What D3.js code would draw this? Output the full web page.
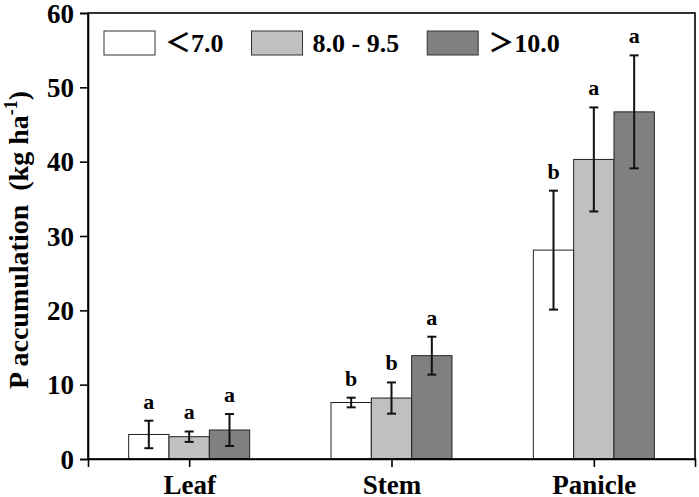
<!DOCTYPE html>
<html>
<head>
<meta charset="utf-8">
<script src="https://cdn.jsdelivr.net/npm/d3@7"></script>
<style>
body { margin: 0; background: #fff; }
text { font-family: "Liberation Serif", "Times New Roman", serif; font-weight: bold; }
</style>
</head>
<body>
<script>
// data
var organs = ["Leaf", "Stem", "Panicle"];
var groups = ["＜7.0", "8.0 - 9.5", "＞10.0"];
var means = [
  [3.3, 3.0, 3.9],
  [7.6, 8.2, 13.9],
  [28.1, 40.3, 46.7]
];
var errs = [
  [1.85, 0.7, 2.15],
  [0.65, 2.1, 2.55],
  [8.0, 7.0, 7.6]
];
var letters = [
  ["a", "a", "a"],
  ["b", "b", "a"],
  ["b", "a", "a"]
];
var yTicks = [0, 10, 20, 30, 40, 50, 60];
var fills = ["#ffffff", "#c0c0c0", "#808080"];

var W = 699, H = 497;
// note: "top" is a reserved window property, so use m* names
var mLeft = 88, mRight = 695, mTop = 13, mBottom = 459;

var svg = d3.select("body").append("svg")
            .attr("width", W)
            .attr("height", H);

var x = d3.scalePoint()
          .domain(organs)
          .range([mLeft, mRight])
          .padding(0.5);
var xs = d3.scaleBand()
           .domain(groups)
           .range([-60.5, 60.5]);
var y = d3.scaleLinear()
          .domain([0, 60])
          .range([mBottom, mTop]);

var rows = [];
organs.forEach(function(o, i) {
  groups.forEach(function(g, j) {
    rows.push({organ: o, group: g, j: j, v: means[i][j], e: errs[i][j], l: letters[i][j]});
  });
});

// bars
svg.append("g").selectAll("rect")
   .data(rows)
   .enter()
   .append("rect")
   .attr("x", function(d) { return x(d.organ) + xs(d.group); })
   .attr("width", xs.bandwidth())
   .attr("y", function(d) { return y(d.v); })
   .attr("height", function(d) { return y(0) - y(d.v); })
   .attr("fill", function(d) { return fills[d.j]; })
   .attr("stroke", "#222")
   .attr("stroke-width", 1);

// error bars
var eb = svg.append("g").selectAll("g")
            .data(rows)
            .enter()
            .append("g")
            .attr("stroke", "#111")
            .attr("stroke-width", 2);
function cx(d) { return x(d.organ) + xs(d.group) + xs.bandwidth() / 2; }
eb.append("line")
  .attr("x1", cx).attr("x2", cx)
  .attr("y1", function(d) { return y(d.v + d.e); })
  .attr("y2", function(d) { return y(d.v - d.e); });
eb.append("line")
  .attr("x1", function(d) { return cx(d) - 4.5; })
  .attr("x2", function(d) { return cx(d) + 4.5; })
  .attr("y1", function(d) { return y(d.v + d.e); })
  .attr("y2", function(d) { return y(d.v + d.e); });
eb.append("line")
  .attr("x1", function(d) { return cx(d) - 4.5; })
  .attr("x2", function(d) { return cx(d) + 4.5; })
  .attr("y1", function(d) { return y(d.v - d.e); })
  .attr("y2", function(d) { return y(d.v - d.e); });

// significance letters
svg.append("g").selectAll("text")
   .data(rows)
   .enter()
   .append("text")
   .attr("x", cx)
   .attr("y", function(d) { return y(d.v + d.e) - 12; })
   .attr("text-anchor", "middle")
   .attr("font-size", "22px")
   .text(function(d) { return d.l; });

// frame
svg.append("rect")
   .attr("x", mLeft).attr("y", mTop)
   .attr("width", mRight - mLeft).attr("height", mBottom - mTop)
   .attr("fill", "none")
   .attr("stroke", "#000")
   .attr("stroke-width", 1.6);

// axes
var yAxis = svg.append("g")
               .attr("transform", "translate(" + mLeft + ",0)")
               .call(d3.axisLeft(y).tickValues(yTicks).tickSize(8).tickPadding(6));
var xAxis = svg.append("g")
               .attr("transform", "translate(0," + mBottom + ")")
               .call(d3.axisBottom(x).tickSize(8).tickPadding(8));
[yAxis, xAxis].forEach(function(a) {
  a.select(".domain").attr("stroke-width", 1.6).attr("stroke", "#000");
  a.selectAll(".tick line").attr("stroke-width", 1.6).attr("stroke", "#000");
  a.selectAll(".tick text")
   .attr("font-family", "Liberation Serif, serif")
   .attr("font-weight", "bold")
   .attr("font-size", "27px")
   .attr("fill", "#000");
});
yAxis.selectAll(".tick text").attr("dy", "0.34em");
xAxis.selectAll(".tick text").attr("dy", "0.70em");

// y title
var yt = svg.append("text")
            .attr("transform", "translate(28,240) rotate(-90)")
            .attr("text-anchor", "middle")
            .attr("font-size", "28px");
yt.append("tspan").text("P accumulation\u00a0\u00a0(kg ha");
yt.append("tspan").attr("dy", "-11").attr("font-size", "18px").text("-1");
yt.append("tspan").attr("dy", "11").text(")");

// legend
var lx = 104;
groups.forEach(function(g, j) {
  svg.append("rect")
     .attr("x", lx).attr("y", 31)
     .attr("width", 51).attr("height", 24)
     .attr("fill", fills[j])
     .attr("stroke", "#333")
     .attr("stroke-width", 1);
  var t = svg.append("text")
             .attr("x", lx + 61).attr("y", 52)
             .attr("font-size", "26px")
             .style("font-family", "'Liberation Serif', 'Noto Sans CJK SC', serif")
             .text(g);
  lx = lx + 61 + t.node().getComputedTextLength() + 28;
});
</script>
</body>
</html>
